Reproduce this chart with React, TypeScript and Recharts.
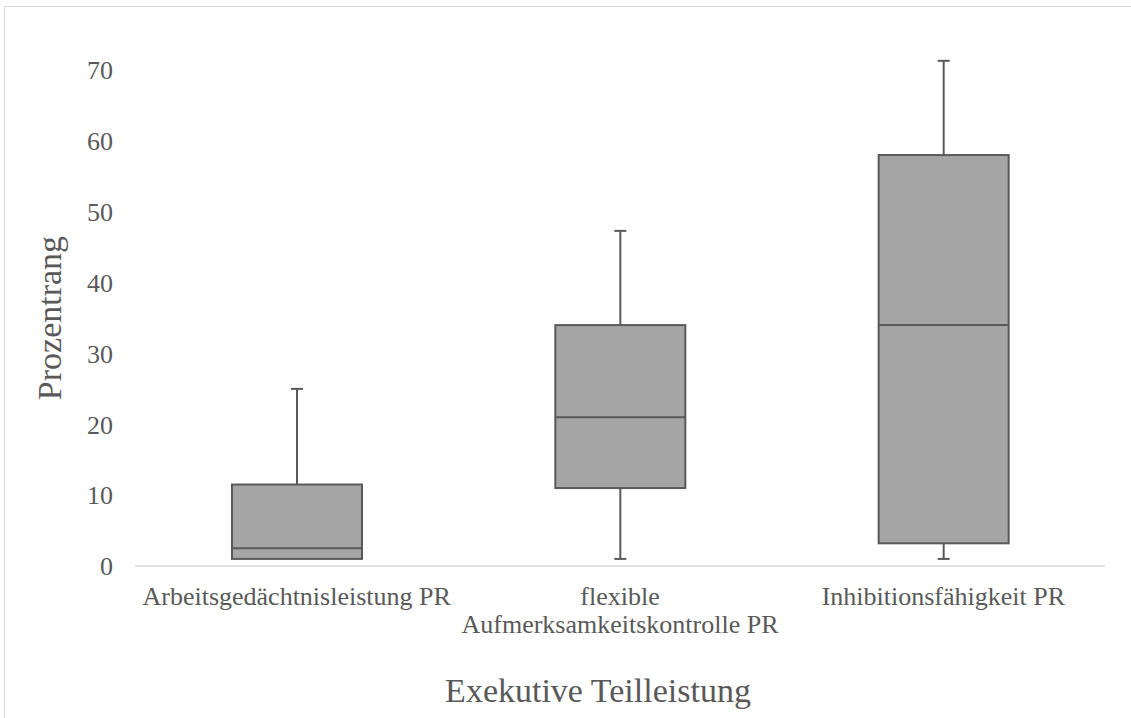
import React from 'react';
import { ComposedChart, Bar, XAxis, YAxis, Label } from 'recharts';

const categories = [
  'Arbeitsgedächtnisleistung PR',
  'flexible Aufmerksamkeitskontrolle PR',
  'Inhibitionsfähigkeit PR',
];
const minValues = [1, 1, 1];
const q1Values = [1, 11, 3.2];
const medianValues = [2.5, 21, 34];
const q3Values = [11.5, 34, 58];
const maxValues = [25, 47.3, 71.3];
const yTicks = [0, 10, 20, 30, 40, 50, 60, 70];
const yDomain = [0, 75];

const xTitle = 'Exekutive Teilleistung';
const yTitle = 'Prozentrang';

const data = categories.map((name, i) => ({
  name,
  range: [minValues[i], maxValues[i]],
  min: minValues[i],
  q1: q1Values[i],
  median: medianValues[i],
  q3: q3Values[i],
  max: maxValues[i],
}));

const FONT = '"Liberation Serif", "Times New Roman", serif';
const TEXT = '#595959';
const LINE = '#595959';
const FILL = '#a5a5a5';
const MAX_CHARS = 28;

function wrapLabel(text: string, maxChars: number): string[] {
  const words = String(text).split(' ');
  const lines: string[] = [];
  let cur = '';
  for (const w of words) {
    const next = cur ? cur + ' ' + w : w;
    if (next.length > maxChars && cur) {
      lines.push(cur);
      cur = w;
    } else {
      cur = next;
    }
  }
  if (cur) lines.push(cur);
  return lines;
}

function BoxShape(props: any) {
  const { x, y, width, height, payload } = props;
  if (height == null || !payload) return null;
  const { min, q1, median, q3, max } = payload;
  const toY = (v: number) => y + (height * (max - v)) / (max - min);
  const cx = x + width / 2;
  const cap = 6;
  return (
    <g>
      <line x1={cx} x2={cx} y1={toY(max)} y2={toY(q3)} stroke={LINE} strokeWidth={2} />
      <line x1={cx - cap} x2={cx + cap} y1={toY(max)} y2={toY(max)} stroke={LINE} strokeWidth={2} />
      {q1 > min && (
        <g>
          <line x1={cx} x2={cx} y1={toY(q1)} y2={toY(min)} stroke={LINE} strokeWidth={2} />
          <line x1={cx - cap} x2={cx + cap} y1={toY(min)} y2={toY(min)} stroke={LINE} strokeWidth={2} />
        </g>
      )}
      <rect
        x={x}
        y={toY(q3)}
        width={width}
        height={toY(q1) - toY(q3)}
        fill={FILL}
        stroke={LINE}
        strokeWidth={2}
      />
      <line x1={x} x2={x + width} y1={toY(median)} y2={toY(median)} stroke={LINE} strokeWidth={2} />
    </g>
  );
}

function XTick(props: any) {
  const { x, y, payload } = props;
  const lines = wrapLabel(payload.value, MAX_CHARS);
  return (
    <text
      x={x}
      y={y}
      textAnchor="middle"
      fontSize={26}
      fontFamily={FONT}
      fill={TEXT}
    >
      {lines.map((line, i) => (
        <tspan key={i} x={x} dy={i === 0 ? 19 : 28}>
          {line}
        </tspan>
      ))}
    </text>
  );
}

function XTitle(props: any) {
  const vb = props.viewBox || {};
  return (
    <text
      x={vb.x + vb.width / 2 - 22}
      y={vb.y + 136}
      textAnchor="middle"
      fontSize={34}
      fontFamily={FONT}
      fill={TEXT}
    >
      {xTitle}
    </text>
  );
}

function YTitle(props: any) {
  const vb = props.viewBox || {};
  const top = yTicks[yTicks.length - 1];
  const cy = vb.y + vb.height * (1 - top / 2 / (yDomain[1] - yDomain[0]));
  const cx = 61;
  return (
    <text
      x={cx}
      y={cy}
      textAnchor="middle"
      fontSize={34}
      fontFamily={FONT}
      fill={TEXT}
      transform={`rotate(-90 ${cx} ${cy})`}
    >
      {yTitle}
    </text>
  );
}

export default function App() {
  return (
    <div style={{ position: 'fixed', left: 0, top: 0, width: 1131, height: 718, overflow: 'hidden', background: '#fff' }}>
      <div
        style={{
          position: 'absolute',
          left: 4,
          top: 6,
          width: 1200,
          height: 800,
          border: '1px solid #d9d9d9',
          boxSizing: 'border-box',
        }}
      />
      <div style={{ position: 'absolute', left: 0, top: 0 }}>
        <ComposedChart
          width={1131}
          height={718}
          data={data}
          margin={{ top: 34.6, right: 26, bottom: 0, left: 0 }}
        >
          <XAxis
            dataKey="name"
            type="category"
            height={152}
            axisLine={{ stroke: '#d9d9d9', strokeWidth: 1.5 }}
            tickLine={false}
            tickSize={0}
            tickMargin={20}
            interval={0}
            tick={<XTick />}
          >
            <Label content={<XTitle />} />
          </XAxis>
          <YAxis
            type="number"
            domain={yDomain}
            ticks={yTicks}
            width={135}
            axisLine={false}
            tickLine={false}
            tickSize={0}
            tickMargin={22}
            tick={{ fill: TEXT, fontSize: 26, fontFamily: FONT }}
          >
            <Label content={<YTitle />} />
          </YAxis>
          <Bar dataKey="range" barSize={130} shape={<BoxShape />} isAnimationActive={false} />
        </ComposedChart>
      </div>
    </div>
  );
}
